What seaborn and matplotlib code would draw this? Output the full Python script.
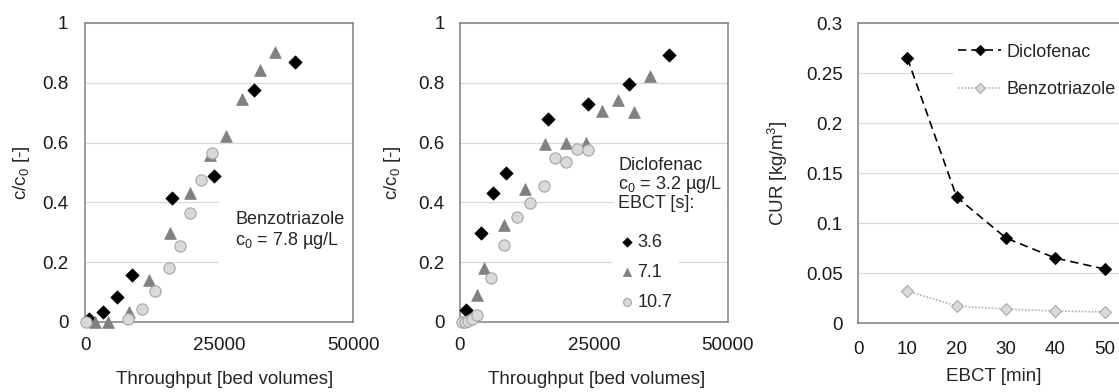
"""
Breakthrough curves (benzotriazole, diclofenac) and carbon usage rate vs EBCT.
"""

import matplotlib
matplotlib.use("Agg")
import matplotlib.pyplot as plt
import seaborn as sns

# Panel 1: Benzotriazole, c0 = 7.8 ug/L
benzo_x_36 = [800, 3400, 6020, 8810, 16250, 24000, 31450, 39200]
benzo_y_36 = [0.01, 0.034, 0.084, 0.156, 0.413, 0.489, 0.777, 0.868]
benzo_x_71 = [1860, 4340, 8150, 11970, 15820, 19540, 23390, 26360, 29340, 32570, 35360]
benzo_y_71 = [0.0, 0.0, 0.035, 0.142, 0.296, 0.432, 0.559, 0.622, 0.745, 0.844, 0.902]
benzo_x_107 = [190, 7950, 10620, 13090, 15700, 17680, 19670, 21590, 23700]
benzo_y_107 = [0.0, 0.01, 0.044, 0.103, 0.181, 0.254, 0.363, 0.475, 0.566]

# Panel 2: Diclofenac, c0 = 3.2 ug/L
diclo_x_36 = [1050, 3850, 6200, 8680, 16440, 23880, 31510, 39080]
diclo_y_36 = [0.039, 0.296, 0.430, 0.499, 0.678, 0.728, 0.796, 0.894]
diclo_x_71 = [3230, 4530, 8250, 12100, 15940, 19730, 23450, 26490, 29470, 32440, 35540]
diclo_y_71 = [0.089, 0.181, 0.324, 0.444, 0.596, 0.598, 0.598, 0.706, 0.741, 0.702, 0.821]
diclo_x_107 = [310, 930, 1550, 2170, 3230, 5710, 8190, 10670, 13150, 15630, 17800, 19850, 21840, 23880]
diclo_y_107 = [0.0, 0.0, 0.002, 0.011, 0.025, 0.147, 0.257, 0.352, 0.399, 0.456, 0.547, 0.536, 0.579, 0.575]

ebct_labels = ["3.6", "7.1", "10.7"]

# Panel 3: carbon usage rate
ebct_min = [10, 20, 30, 40, 50]
cur_diclofenac = [0.265, 0.126, 0.085, 0.065, 0.054]
cur_benzotriazole = [0.032, 0.017, 0.014, 0.012, 0.011]

# Style
FS = 13.5   # ticks and axis labels
FT = 13     # in-plot texts and legends
sns.set_theme(style="white")
plt.rcParams["font.family"] = ["Liberation Sans", "DejaVu Sans"]
plt.rcParams["mathtext.default"] = "regular"
plt.rcParams["font.size"] = FS

FRAME = "#808080"
GRID = "#d9d9d9"
MARKERS = [
    dict(marker="D", s=46, color="black", edgecolor="black", linewidth=0.5),
    dict(marker="^", s=72, color="#808080", edgecolor="#808080", linewidth=0.5),
    dict(marker="o", s=66, color="#d9d9d9", edgecolor="#a6a6a6", linewidth=0.8),
]

fig = plt.figure(figsize=(11.19, 3.92), dpi=100)
ax1 = fig.add_axes([0.076, 0.1786, 0.2395, 0.763])
ax2 = fig.add_axes([0.411, 0.1786, 0.2395, 0.763])
ax3 = fig.add_axes([0.7668, 0.176, 0.2424, 0.765])


def style_axes(ax, xpad, ypad):
    for sp in ax.spines.values():
        sp.set_color(FRAME)
        sp.set_linewidth(1.1)
    ax.set_axisbelow(True)
    ax.yaxis.grid(True, color=GRID, linewidth=0.9)
    ax.xaxis.grid(False)
    ax.tick_params(axis="x", length=0, pad=xpad, labelsize=FS, colors="#1a1a1a")
    ax.tick_params(axis="y", length=0, pad=ypad, labelsize=FS, colors="#1a1a1a")


def breakthrough(ax, series):
    for (x, y), kw, lab in zip(series, MARKERS, ebct_labels):
        sns.scatterplot(x=x, y=y, ax=ax, zorder=3, label=lab, clip_on=False, **kw)
    ax.set_xlim(0, 50000)
    ax.set_ylim(0, 1)
    ax.set_xticks([0, 25000, 50000])
    ax.set_xticklabels(["0", "25000", "50000"])
    ax.set_yticks([0, 0.2, 0.4, 0.6, 0.8, 1])
    ax.set_yticklabels(["0", "0.2", "0.4", "0.6", "0.8", "1"])
    ax.set_xlabel("Throughput [bed volumes]", fontsize=FS)
    ax.set_ylabel("c/c$_0$ [-]", fontsize=FS)


# Panel 1
breakthrough(ax1, [(benzo_x_36, benzo_y_36), (benzo_x_71, benzo_y_71), (benzo_x_107, benzo_y_107)])
style_axes(ax1, 11, 12)
ax1.get_legend().remove()
ax1.text(0.56, 0.37, "Benzotriazole\nc$_0$ = 7.8 µg/L", transform=ax1.transAxes,
         ha="left", va="top", fontsize=FT, zorder=1, linespacing=1.1,
         bbox=dict(boxstyle="square,pad=0.9", facecolor="white", edgecolor="none"))
ax1.yaxis.set_label_coords(-0.198, 0.5)
ax1.xaxis.set_label_coords(0.52, -0.165)

# Panel 2
breakthrough(ax2, [(diclo_x_36, diclo_y_36), (diclo_x_71, diclo_y_71), (diclo_x_107, diclo_y_107)])
style_axes(ax2, 11, 11)
ax2.text(0.59, 0.55, "Diclofenac\nc$_0$ = 3.2 µg/L\nEBCT [s]:", transform=ax2.transAxes,
         ha="left", va="top", fontsize=FT, zorder=1, linespacing=1.0,
         bbox=dict(boxstyle="square,pad=0.25", facecolor="white", edgecolor="none"))
ax2.legend(loc="center", bbox_to_anchor=(0.69, 0.165), frameon=True, framealpha=1,
           edgecolor="none", fancybox=False, handletextpad=0.0, labelspacing=0.72,
           markerscale=0.7, borderpad=0.3, handlelength=1.1, fontsize=FT)
ax2.yaxis.set_label_coords(-0.213, 0.5)
ax2.xaxis.set_label_coords(0.51, -0.165)

# Panel 3
sns.lineplot(x=ebct_min, y=cur_diclofenac, ax=ax3, color="black", linestyle=(0, (5, 3)),
             linewidth=1.2, marker="D", markersize=6.5, markerfacecolor="black",
             markeredgecolor="black", label="Diclofenac", zorder=3)
sns.lineplot(x=ebct_min, y=cur_benzotriazole, ax=ax3, color="#b3b3b3", linestyle=(0, (1, 1)),
             linewidth=1.2, marker="D", markersize=6.5, markerfacecolor="#d9d9d9",
             markeredgecolor="#a6a6a6", label="Benzotriazole", zorder=3)
ax3.set_xlim(0, 55)
ax3.set_ylim(0, 0.3)
ax3.set_xticks([0, 10, 20, 30, 40, 50])
ax3.set_yticks([0, 0.05, 0.1, 0.15, 0.2, 0.25, 0.3])
ax3.set_yticklabels(["0", "0.05", "0.1", "0.15", "0.2", "0.25", "0.3"])
style_axes(ax3, 13, 11)
ax3.set_xlabel("EBCT [min]", fontsize=FS)
ax3.set_ylabel("CUR [kg/m$^3$]", fontsize=FS)
ax3.yaxis.set_label_coords(-0.251, 0.5)
ax3.xaxis.set_label_coords(0.5, -0.15)
ax3.legend(loc="upper left", bbox_to_anchor=(0.315, 0.98), frameon=True, framealpha=1,
           edgecolor="none", fancybox=False, handlelength=2.4, handletextpad=0.3,
           labelspacing=1.15, borderpad=0.3, fontsize=FT, markerscale=0.85)

fig.savefig("out.png", dpi=100)
